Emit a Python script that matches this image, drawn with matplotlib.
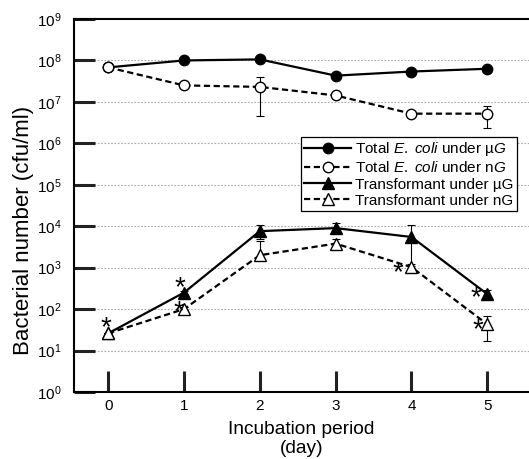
import numpy as np
import matplotlib
matplotlib.use("Agg")
import matplotlib.pyplot as plt
from matplotlib.ticker import LogLocator, LogFormatterMathtext, NullLocator

plt.rcParams['font.family'] = ['Liberation Sans', 'DejaVu Sans']
plt.rcParams['mathtext.fontset'] = 'custom'
plt.rcParams['mathtext.rm'] = 'Liberation Sans'
plt.rcParams['mathtext.it'] = 'Liberation Sans:italic'

days = [0, 1, 2, 3, 4, 5]

# total E. coli
total_ug = [6.8e7, 1.0e8, 1.06e8, 4.3e7, 5.4e7, 6.3e7]
total_ng = [6.8e7, 2.5e7, 2.3e7, 1.43e7, 5.2e6, 5.2e6]
total_ng_lo = [6.8e7, 2.5e7, 4.6e6, 1.43e7, 5.2e6, 2.3e6]
total_ng_hi = [6.8e7, 2.5e7, 4.0e7, 1.43e7, 5.2e6, 8.0e6]

# transformants
trans_ug = [26, 250, 7.6e3, 9.0e3, 5.5e3, 230]
trans_ug_lo = [26, 230, 5.0e3, 6.8e3, 1.2e3, 175]
trans_ug_hi = [26, 270, 1.05e4, 1.2e4, 1.06e4, 290]
trans_ng = [26, 100, 2.0e3, 3.8e3, 1.03e3, 43]
trans_ng_lo = [26, 95, 1.5e3, 2.8e3, 0.95e3, 17]
trans_ng_hi = [26, 110, 4.3e3, 4.8e3, 1.1e3, 69]

labels = [r"Total $\mathit{E.}$ $\mathit{coli}$ under µ$\mathit{G}$",
          r"Total $\mathit{E.}$ $\mathit{coli}$ under n$\mathit{G}$",
          "Transformant under µG",
          "Transformant under nG"]

# days with significance marks
stars_ug = [1, 5]
stars_ng = [0, 1, 4, 5]


def yerr(v, lo, hi):
    v = np.array(v)
    return [v - np.array(lo), np.array(hi) - v]


fig = plt.figure(figsize=(5.29, 4.59), dpi=100)
ax = fig.add_axes([0.14, 0.146, 0.86, 0.8126])

ax.set_yscale('log')
ax.set_ylim(1, 1e9)
ax.set_xlim(-0.45, 5.55)

for k in range(1, 9):
    ax.axhline(10.0 ** k, color='#aaaaaa', ls=(0, (1.5, 1.5)), lw=0.8, zorder=0)

dash = (0, (2.8, 1.6))
ekw = dict(fmt='none', elinewidth=0.8, capsize=3, capthick=0.8, ecolor='black', zorder=2)
ax.errorbar(days, total_ng, yerr=yerr(total_ng, total_ng_lo, total_ng_hi), **ekw)
ax.errorbar(days, trans_ug, yerr=yerr(trans_ug, trans_ug_lo, trans_ug_hi), **ekw)
ax.errorbar(days, trans_ng, yerr=yerr(trans_ng, trans_ng_lo, trans_ng_hi), **ekw)

ax.plot(days, total_ug, color='black', lw=1.6, marker='o', ms=7.5,
        mfc='black', mec='black', label=labels[0], zorder=3)
ax.plot(days, total_ng, color='black', lw=1.6, ls=dash, marker='o', ms=7.5,
        mfc='white', mec='black', mew=1, label=labels[1], zorder=4)
ax.plot(days, trans_ug, color='black', lw=1.6, marker='^', ms=8,
        mfc='black', mec='black', label=labels[2], zorder=3)
ax.plot(days, trans_ng, color='black', lw=1.6, ls=dash, marker='^', ms=8,
        mfc='white', mec='black', mew=1, label=labels[3], zorder=4)

# star offsets (pixels, glyph centre relative to the point)
star_fs = 20
rise = 0.57 * star_fs * 100 / 72 - 4
star_off_ug = {1: (-4, 9), 5: (-11, 1)}
star_off_ng = {0: (-2, 10), 1: (-5, 2), 4: (-14, -1), 5: (-9, -1)}
for vals, marks, offs in [(trans_ug, stars_ug, star_off_ug), (trans_ng, stars_ng, star_off_ng)]:
    for d in marks:
        dx, dy = offs[d]
        ax.annotate('*', (days[d], vals[d]), xytext=(dx, dy - rise),
                    textcoords='offset pixels', ha='center', va='baseline',
                    fontsize=star_fs, zorder=5)

ax.yaxis.set_major_locator(LogLocator(base=10, numticks=12))
ax.yaxis.set_major_formatter(LogFormatterMathtext())
ax.yaxis.set_minor_locator(NullLocator())
ax.set_xticks(days)
ax.tick_params(axis='both', direction='in', length=15, width=2.2, labelsize=11,
               color='#222222')
ax.tick_params(axis='x', pad=5)
ax.tick_params(axis='y', pad=9)

for s in ['left', 'bottom', 'top']:
    ax.spines[s].set_linewidth(1.5)
ax.spines['right'].set_visible(False)

ax.set_ylabel('Bacterial number (cfu/ml)', fontsize=16)
ax.yaxis.set_label_coords(-0.089, 0.434)
ax.set_xlabel('Incubation period\n(day)', fontsize=13.8, labelpad=6, linespacing=1.1)

leg = ax.legend(loc='upper left', bbox_to_anchor=(0.499, 0.684), borderaxespad=0,
                fontsize=11, handlelength=3.1, handletextpad=0.25, labelspacing=0.15,
                borderpad=0.2, fancybox=False, framealpha=1, edgecolor='black')
leg.get_frame().set_linewidth(0.9)

fig.savefig('out.png', dpi=100)
